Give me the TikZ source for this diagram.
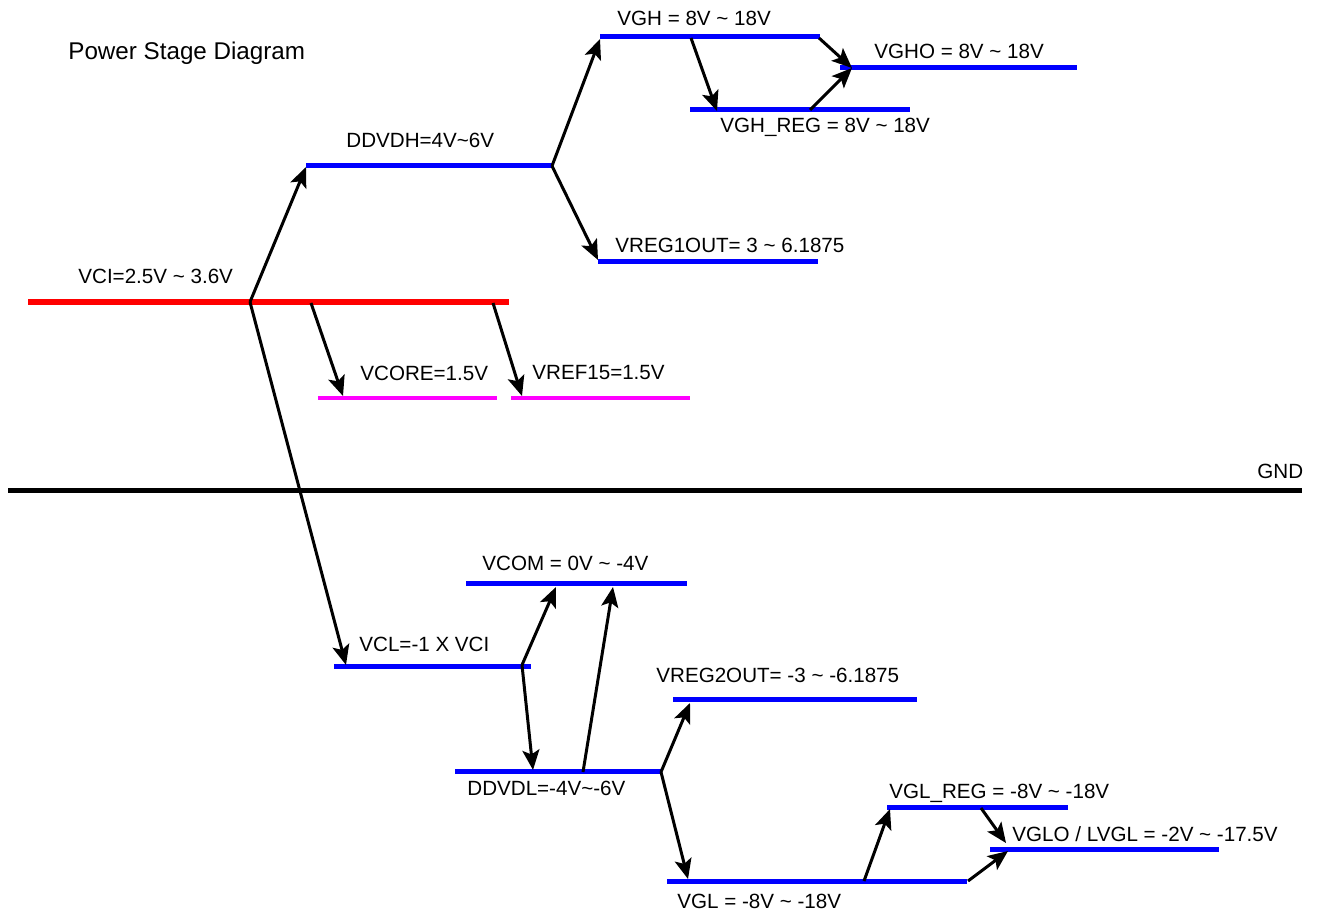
\documentclass[tikz,border=0pt]{standalone}
\usepackage{fontspec}
\setmainfont{Liberation Sans}
\usetikzlibrary{arrows.meta}
\definecolor{magbright}{RGB}{255,0,255}
\definecolor{bluebright}{RGB}{0,0,255}
\definecolor{redbright}{RGB}{255,0,0}
\begin{document}
\begin{tikzpicture}[x=0.5pt,y=-0.5pt,
  lbl/.style={anchor=west,inner sep=0pt,font=\fontsize{10.3}{12}\selectfont},
  bluebar/.style={draw=bluebright,line width=2.5pt},
  redbar/.style={draw=redbright,line width=3pt},
  magbar/.style={draw=magbright,line width=2.2pt},
  gndbar/.style={draw=black,line width=2.5pt},
  arr/.style={draw=black,line width=1.5pt,-{Stealth[length=10pt,width=8.5pt,inset=2.2pt]}}]
\useasboundingbox (0,0) rectangle (1317,913);

% level lines
\coordinate (vghL) at (600,37);   \coordinate (vghR) at (820,37);
\coordinate (vghoL) at (840,68);  \coordinate (vghoR) at (1077,68);
\coordinate (vghrL) at (690,110); \coordinate (vghrR) at (910,110);
\coordinate (ddvdhL) at (306,166);\coordinate (ddvdhR) at (552,166);
\coordinate (vr1L) at (598,262);  \coordinate (vr1R) at (818,262);
\coordinate (vciL) at (28,302);   \coordinate (vciR) at (509,302);
\coordinate (vcoreL) at (318,398);\coordinate (vcoreR) at (497,398);
\coordinate (vrefL) at (511,398); \coordinate (vrefR) at (690,398);
\coordinate (gndL) at (8,491);    \coordinate (gndR) at (1302,491);
\coordinate (vcomL) at (466,584); \coordinate (vcomR) at (687,584);
\coordinate (vclL) at (334,667);  \coordinate (vclR) at (531,667);
\coordinate (vr2L) at (673,700);  \coordinate (vr2R) at (917,700);
\coordinate (ddvdlL) at (455,772);\coordinate (ddvdlR) at (661,772);
\coordinate (vglrL) at (887,807); \coordinate (vglrR) at (1068,807);
\coordinate (vgloL) at (990,849); \coordinate (vgloR) at (1219,849);
\coordinate (vglL) at (667,881);  \coordinate (vglR) at (967,881);

\draw[bluebar] (vghL) -- (vghR);
\draw[bluebar] (vghoL) -- (vghoR);
\draw[bluebar] (vghrL) -- (vghrR);
\draw[bluebar] (ddvdhL) -- (ddvdhR);
\draw[bluebar] (vr1L) -- (vr1R);
\draw[redbar] (vciL) -- (vciR);
\draw[magbar] (vcoreL) -- (vcoreR);
\draw[magbar] (vrefL) -- (vrefR);
\draw[gndbar] (gndL) -- (gndR);
\draw[bluebar] (vcomL) -- (vcomR);
\draw[bluebar] (vclL) -- (vclR);
\draw[bluebar] (vr2L) -- (vr2R);
\draw[bluebar] (ddvdlL) -- (ddvdlR);
\draw[bluebar] (vglrL) -- (vglrR);
\draw[bluebar] (vgloL) -- (vgloR);
\draw[bluebar] (vglL) -- (vglR);

% arrow end points
\coordinate (a1s) at (250,302); \coordinate (a1e) at (306,167);
\coordinate (a2e) at (346,665);
\coordinate (a3s) at (311,303); \coordinate (a3e) at (343,396);
\coordinate (a4s) at (493,303); \coordinate (a4e) at (522,396);
\coordinate (a5e) at (600,39);
\coordinate (a6e) at (598,260);
\coordinate (a7s) at (691,38);  \coordinate (a7e) at (717,111);
\coordinate (a8s) at (819,38);  \coordinate (a8e) at (852,68);
\coordinate (a9s) at (810,110);
\coordinate (a10s) at (522,665); \coordinate (a10e) at (556,587);
\coordinate (a11e) at (533,770);
\coordinate (a12s) at (583,772); \coordinate (a12e) at (613,587);
\coordinate (a13e) at (690,703);
\coordinate (a14e) at (688,879);
\coordinate (a15s) at (864,881); \coordinate (a15e) at (890,809);
\coordinate (a16s) at (981,808); \coordinate (a16e) at (1006,843);
\coordinate (a17s) at (968,881); \coordinate (a17e) at (1008,851);

\draw[arr] (a1s) -- (a1e);
\draw[arr] (a1s) -- (a2e);
\draw[arr] (a3s) -- (a3e);
\draw[arr] (a4s) -- (a4e);
\draw[arr] (ddvdhR) -- (a5e);
\draw[arr] (ddvdhR) -- (a6e);
\draw[arr] (a7s) -- (a7e);
\draw[arr] (a8s) -- (a8e);
\draw[arr] (a9s) -- (a8e);
\draw[arr] (a10s) -- (a10e);
\draw[arr] (a10s) -- (a11e);
\draw[arr] (a12s) -- (a12e);
\draw[arr] (ddvdlR) -- (a13e);
\draw[arr] (ddvdlR) -- (a14e);
\draw[arr] (a15s) -- (a15e);
\draw[arr] (a16s) -- (a16e);
\draw[arr] (a17s) -- (a17e);

% labels
\node[lbl,font=\fontsize{12.1}{14}\selectfont] (title) at (68,53) {Power Stage Diagram};
\node[lbl] (tvgh) at (617,18) {VGH = 8V \textasciitilde{} 18V};
\node[lbl] (tvgho) at (874,51) {VGHO = 8V \textasciitilde{} 18V};
\node[lbl] (tvghr) at (720,127) {VGH\_REG = 8V \textasciitilde{} 18V};
\node[lbl] (tddvdh) at (346,140) {DDVDH=4V\textasciitilde{}6V};
\node[lbl] (tvr1) at (615,245) {VREG1OUT= 3 \textasciitilde{} 6.1875};
\node[lbl] (tvci) at (78,276) {VCI=2.5V \textasciitilde{} 3.6V};
\node[lbl] (tvcore) at (360,373) {VCORE=1.5V};
\node[lbl] (tvref) at (532,373) {VREF15=1.5V};
\node[lbl] (tgnd) at (1257,471) {GND};
\node[lbl] (tvcom) at (482,563) {VCOM = 0V \textasciitilde{} -4V};
\node[lbl] (tvcl) at (359,644) {VCL=-1 X VCI};
\node[lbl] (tvr2) at (656,675) {VREG2OUT= -3 \textasciitilde{} -6.1875};
\node[lbl] (tddvdl) at (467,788) {DDVDL=-4V\textasciitilde{}-6V};
\node[lbl] (tvglr) at (889,793) {VGL\_REG = -8V \textasciitilde{} -18V};
\node[lbl] (tvglo) at (1012,834) {VGLO / LVGL = -2V \textasciitilde{} -17.5V};
\node[lbl] (tvgl) at (677,901) {VGL = -8V \textasciitilde{} -18V};
\end{tikzpicture}
\end{document}
